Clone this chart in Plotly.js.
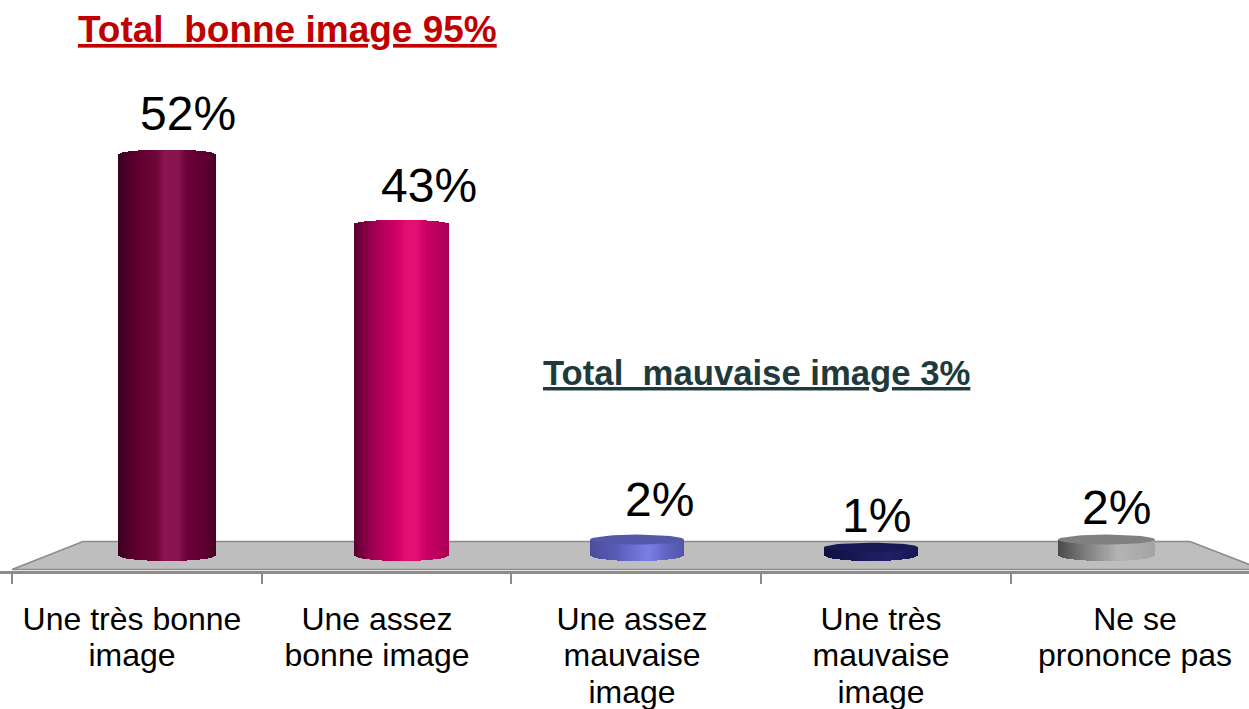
<!DOCTYPE html>
<html>
<head>
<meta charset="utf-8">
<script src="https://cdn.plot.ly/plotly-3.0.1.min.js"></script>
<style>html,body{margin:0;padding:0;background:#fff;overflow:hidden}#c{width:1249px;height:709px}</style>
</head>
<body>
<div id="c"></div>
<script>
// Data
const categories = ["Une très bonne<br>image", "Une assez<br>bonne image", "Une assez<br>mauvaise<br>image", "Une très<br>mauvaise<br>image", "Ne se<br>prononce pas"];
const values = [52, 43, 2, 1, 2];
const titleGood = "Total  bonne image 95%";
const titleBad = "Total  mauvaise image 3%";

// Layout constants
const W = 1249, H = 709, plotBottom = 571;
const pxPerUnit = 7.7, zeroPx = 555;
const bandPx = 249.7, firstBandPx = 136.8;
const barCenterPx = [167, 401.5, 637, 871, 1106.5];
const barWidthPx = [98, 95, 94, 94, 97];
const labelCenterPx = [132, 377, 632, 881, 1135];
const valueDx = [21, 27, 22, 5, 10];
const valueDy = [41, 38, 40, 32, 32];
const domePx = [5, 4, 0, 0, 0];
const capPx = [0, 0, 5, 4.5, 5];
const bottomPx = 6;
const capColors = ["#6a0a3c", "#c00060", "#5358a8", "#191a55", "#808080"];
const gradients = [
  [[0, "#3a0020"], [0.2, "#5f0030"], [0.4, "#6f0638"], [0.47, "#8a1450"], [0.62, "#8a1450"], [0.7, "#6c0038"], [0.9, "#5c002e"], [1, "#4a0026"]],
  [[0, "#5a0030"], [0.2, "#a00052"], [0.45, "#d00068"], [0.56, "#e40f72"], [0.66, "#e40f72"], [0.76, "#cc0066"], [1, "#a80055"]],
  [[0, "#4a4d9c"], [0.3, "#5a5db8"], [0.62, "#7b7fe6"], [0.8, "#6366c8"], [1, "#5054a8"]],
  [[0, "#0e0e40"], [0.5, "#1c1c60"], [0.7, "#20206a"], [1, "#16164e"]],
  [[0, "#4a4a4a"], [0.3, "#808080"], [0.62, "#b4b4b4"], [1, "#a4a4a4"]]
];
const STRIPS = 48;
const FONT = "Liberation Sans, Arial, sans-serif";

const toUnit = px => (px - firstBandPx) / bandPx;
const hex = c => [1, 3, 5].map(i => parseInt(c.substr(i, 2), 16));
function gradAt(stops, t) {
  for (let i = 1; i < stops.length; i++) {
    if (t <= stops[i][0]) {
      const a = stops[i - 1], b = stops[i], f = (t - a[0]) / (b[0] - a[0]);
      const A = hex(a[1]), B = hex(b[1]);
      return "rgb(" + A.map((v, j) => Math.round(v + (B[j] - v) * f)).join(",") + ")";
    }
  }
  return stops[stops.length - 1][1];
}

// Cylinder bodies: one thin bar per shading strip, heights from `values`
const bx = [], by = [], bbase = [], bw = [], bc = [];
values.forEach((v, i) => {
  const wU = barWidthPx[i] / bandPx, cU = toUnit(barCenterPx[i]);
  for (let k = 0; k < STRIPS; k++) {
    const t = (k + 0.5) / STRIPS, u = 2 * t - 1, arc = Math.sqrt(1 - u * u);
    const base = -bottomPx * arc / pxPerUnit;
    const top = v + domePx[i] * arc / pxPerUnit;
    bx.push(cU + u * wU / 2);
    bbase.push(base);
    by.push(top - base);
    bw.push(wU / STRIPS);
    bc.push(gradAt(gradients[i], t));
  }
});
const bodies = {
  type: "bar", xaxis: "x2", yaxis: "y", x: bx, y: by, base: bbase, width: bw,
  marker: {color: bc, line: {width: 0}}, hoverinfo: "skip", showlegend: false
};

// Flat top caps of the short cylinders
const caps = [];
values.forEach((v, i) => {
  if (!capPx[i]) return;
  const xs = [], ys = [], rx = barWidthPx[i] / bandPx / 2, ry = capPx[i] / pxPerUnit, cU = toUnit(barCenterPx[i]);
  for (let a = 0; a <= 48; a++) {
    const th = a / 48 * 2 * Math.PI;
    xs.push(cU + rx * Math.cos(th));
    ys.push(v + ry * Math.sin(th));
  }
  caps.push({type: "scatter", xaxis: "x2", yaxis: "y", mode: "lines", x: xs, y: ys, fill: "toself",
    fillcolor: capColors[i], line: {width: 0, color: capColors[i]}, hoverinfo: "skip", showlegend: false});
});

// Grey floor
const yMin = (zeroPx - plotBottom) / pxPerUnit, yMax = zeroPx / pxPerUnit;
const floorTop = (zeroPx - 541.5) / pxPerUnit;
const floor = {
  type: "scatter", xaxis: "x", yaxis: "y", mode: "lines",
  x: [toUnit(12), toUnit(83), toUnit(1190), toUnit(1262), toUnit(12)],
  y: [yMin + 0.2, floorTop, floorTop, yMin + 0.2, yMin + 0.2],
  fill: "toself", fillcolor: "#bebebe", line: {color: "#8c8c8c", width: 1.5},
  hoverinfo: "skip", showlegend: false
};

const edgeTicks = [0, 1, 2, 3, 4, 5].map(i => i - 0.5);
const xRange = [toUnit(0), toUnit(W)];

const valueAnn = values.map((v, i) => ({
  xref: "x2", yref: "y", x: toUnit(barCenterPx[i]), y: v, text: v + "%", showarrow: false,
  xshift: valueDx[i], yshift: valueDy[i], xanchor: "center", yanchor: "middle",
  font: {family: FONT, size: 48, color: "#000"}
}));

const layout = {
  width: W, height: H, paper_bgcolor: "#fff", plot_bgcolor: "rgba(0,0,0,0)",
  margin: {l: 0, r: 0, t: 0, b: H - plotBottom, pad: 0},
  barmode: "overlay", bargap: 0, bargroupgap: 0, showlegend: false,
  title: {
    text: "<b><u>" + titleGood + "</u></b>", x: 78 / W, xref: "paper", xanchor: "left",
    y: 1 - 29 / H, yref: "container", yanchor: "middle",
    font: {family: FONT, size: 37, color: "#c00000"}
  },
  xaxis: {
    range: xRange, tickmode: "array", tickvals: edgeTicks, ticktext: edgeTicks.map(() => ""),
    ticks: "outside", ticklen: 10, tickwidth: 2, tickcolor: "#8c8c8c",
    showline: true, linecolor: "#8c8c8c", linewidth: 2.5, showgrid: false, zeroline: false, fixedrange: true
  },
  xaxis2: {
    overlaying: "x", anchor: "y", side: "bottom", range: xRange, tickmode: "array",
    tickvals: labelCenterPx.map(toUnit), ticktext: categories, ticks: "", ticklabelstandoff: 26,
    tickfont: {family: FONT, size: 32, color: "#000"},
    showline: false, showgrid: false, zeroline: false, fixedrange: true
  },
  yaxis: {range: [yMin, yMax], visible: false, fixedrange: true},
  annotations: valueAnn.concat([{
    xref: "paper", yref: "paper", x: 541 / W, y: (plotBottom - 373) / plotBottom,
    text: "<b><u>" + titleBad + "</u></b>", showarrow: false, xanchor: "left", yanchor: "middle",
    font: {family: FONT, size: 34.7, color: "#1f3a3d"}
  }])
};

Plotly.newPlot("c", [floor, bodies].concat(caps), layout, {displayModeBar: false, staticPlot: true}).then(gd => {
  // Tighter line spacing in the multi-line category labels, as in the reference
  gd.querySelectorAll(".x2tick text").forEach(t => {
    t.querySelectorAll("tspan.line").forEach((l, i) => l.setAttribute("dy", (i * 1.14) + "em"));
  });
});
</script>
</body>
</html>
